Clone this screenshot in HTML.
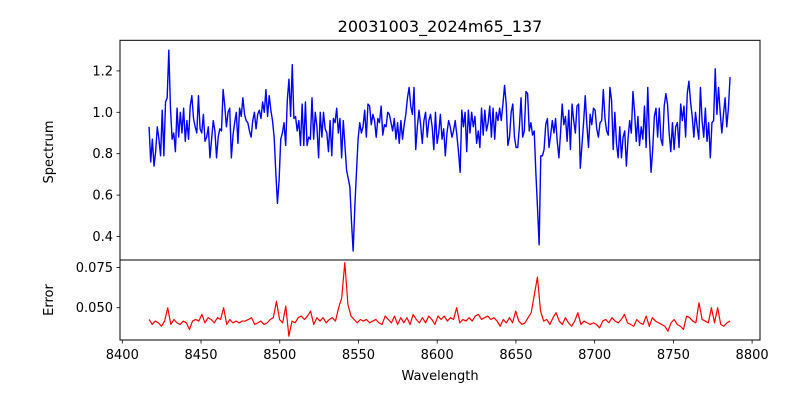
<!DOCTYPE html>
<html><head><meta charset="utf-8"><style>
body{margin:0;background:#fff;}
svg text{font-family:"DejaVu Sans","Liberation Sans",sans-serif;fill:#000;}
</style></head><body>
<svg id="chart" width="800" height="400" viewBox="0 0 800 400" xmlns="http://www.w3.org/2000/svg">
<rect width="800" height="400" fill="#fff"/>
<text x="440" y="32" text-anchor="middle" style="font-size:16px">20031003_2024m65_137</text>
<g id="topg"></g><g id="botg"></g>
<text transform="translate(53,152) rotate(-90)" text-anchor="middle" style="font-size:13px">Spectrum</text>
<text transform="translate(53,300) rotate(-90)" text-anchor="middle" style="font-size:13px">Error</text>
<text x="440" y="380" text-anchor="middle" style="font-size:13px">Wavelength</text>
</svg>
<script>
const wlStart = 8417, wlEnd = 8786;
const xTicks = [8400,8450,8500,8550,8600,8650,8700,8750,8800];
const fluxTicks = [0.4,0.6,0.8,1.0,1.2];
const errTicks = [0.050,0.075];
const flux = [0.93,0.76,0.87,0.74,0.81,0.93,0.87,0.79,1.01,0.79,1.05,1.07,1.30,1.02,0.87,0.90,0.81,1.02,0.88,1.00,0.90,1.02,0.86,0.96,0.87,1.03,1.08,0.97,0.93,0.90,1.08,0.92,0.90,0.99,0.86,0.88,0.93,0.78,0.87,0.96,0.91,0.78,0.88,0.92,0.91,1.11,1.03,0.93,1.00,1.02,0.78,0.89,0.95,1.00,0.85,1.02,0.98,1.07,0.99,0.96,0.95,0.91,0.88,0.96,1.00,0.92,0.99,1.01,0.97,1.05,1.00,1.11,0.98,1.08,1.01,0.96,0.88,0.71,0.56,0.67,0.87,0.90,0.95,0.84,1.06,1.16,0.98,1.23,0.97,0.98,0.91,0.96,0.84,1.04,
0.84,1.05,0.84,0.88,0.87,1.07,0.87,1.00,0.93,0.78,1.00,0.88,1.00,0.92,0.90,0.81,0.96,0.79,0.97,0.95,1.02,0.90,0.97,0.78,0.96,0.84,0.72,0.68,0.64,0.47,0.33,0.54,0.71,0.87,0.95,0.90,0.93,1.01,0.88,1.04,1.03,0.94,0.99,0.96,0.88,0.97,0.95,1.03,0.89,0.94,0.93,1.00,0.99,0.95,0.91,0.97,0.87,0.95,0.85,0.96,0.87,0.94,0.99,1.07,1.12,1.03,0.99,1.12,0.82,0.93,1.01,0.94,0.85,0.96,1.00,0.88,0.96,0.99,0.93,0.82,1.00,0.85,0.90,0.99,0.87,0.92,0.79,0.90,0.96,0.93,0.88,0.91,0.96,0.89,0.81,0.71,
1.01,0.93,1.00,0.81,1.01,0.90,1.00,0.93,0.98,0.85,0.91,0.83,1.02,0.89,1.01,0.91,0.95,1.03,0.88,1.02,0.87,1.00,0.96,1.02,0.96,1.04,1.13,1.04,0.84,0.88,1.00,1.04,0.88,0.83,0.83,0.93,1.07,0.88,0.91,1.10,1.09,0.91,0.95,0.89,0.91,0.71,0.54,0.36,0.79,0.79,0.82,0.94,0.97,0.83,0.89,0.96,0.90,0.97,0.86,0.78,0.90,1.04,0.94,0.98,0.86,1.01,0.82,1.04,0.96,0.90,1.03,1.04,0.73,0.84,0.95,1.08,0.94,0.83,0.99,0.94,1.02,1.01,0.92,0.88,0.95,0.96,1.11,
0.97,0.91,0.89,1.12,1.06,0.82,1.00,0.85,0.78,0.93,0.78,0.88,0.91,0.74,0.87,0.96,0.90,1.10,1.00,0.86,0.98,0.84,0.93,0.87,1.03,0.83,1.12,0.88,0.71,0.82,0.98,1.02,0.88,1.02,0.87,0.84,1.03,1.09,1.04,0.90,0.81,0.95,0.82,0.93,0.95,0.83,1.04,0.96,1.03,0.88,1.09,1.15,1.05,0.98,0.88,1.00,0.93,0.87,1.12,0.96,0.88,1.02,0.86,0.95,0.78,0.95,0.96,1.21,0.99,1.12,1.00,0.90,0.99,1.07,0.93,1.02,1.17];
const err = [0.0427,0.0396,0.0417,0.0406,0.0385,0.0417,0.050,0.0396,0.0427,0.0406,0.0396,0.0417,0.0406,0.0365,0.0417,0.0427,0.0417,0.0458,0.0406,0.0438,0.0427,0.0406,0.0438,0.0427,0.050,0.0396,0.0427,0.0406,0.0417,0.0406,0.0417,0.0417,0.0427,0.0438,0.0396,0.0406,0.0417,0.0396,0.0406,0.0427,0.0438,0.054,0.0427,0.0406,0.051,0.0323,0.0417,0.0406,0.0438,0.0448,0.0427,0.0448,0.0479,0.0396,0.0438,0.0417,0.0438,0.0406,0.0427,0.0438,0.0417,0.050,0.056,0.078,0.052,0.0448,0.0427,0.0406,0.0427,0.0417,0.0427,0.0406,0.0417,0.0427,0.0406,0.0396,0.0448,0.0427,0.0406,0.0448,0.0396,0.0438,0.0406,0.0438,0.0396,0.0458,0.0427,0.0406,0.0438,0.0406,0.0448,0.0427,0.0396,0.0448,
0.0427,0.0448,0.0417,0.0438,0.0427,0.050,0.0406,0.0427,0.0417,0.0438,0.0417,0.0448,0.0458,0.0427,0.0438,0.0448,0.0427,0.0438,0.0417,0.0385,0.0427,0.0406,0.0438,0.0406,0.0479,0.0417,0.0396,0.0406,0.0438,0.0469,0.058,0.069,0.0479,0.0417,0.0427,0.0396,0.0438,0.0469,0.0417,0.0396,0.0438,0.0406,0.0385,0.0417,0.0469,0.0396,0.0417,0.0406,0.0396,0.0406,0.0396,0.0375,0.0417,0.0427,0.0406,0.0438,0.0417,0.0406,0.0427,0.0458,0.0406,0.0396,0.0385,0.0427,0.0406,0.0396,0.0448,0.0385,0.0438,0.0417,0.0406,0.0396,0.0385,0.0354,0.0406,0.0427,0.0396,0.0385,0.0365,0.0448,0.0438,0.0417,0.0406,0.0531,0.0427,0.0417,0.0406,0.050,0.0406,0.050,0.0396,0.0385,0.0406,0.0417];

const NS="http://www.w3.org/2000/svg";
const L=120,R=760;
const xScale=w=>122.3+(w-8400)*1.5745;
const yTop=v=>112.3-(v-1.0)*207;
const yBot=v=>307.7-(v-0.050)*1612;
function mk(tag,attrs,parent){const e=document.createElementNS(NS,tag);for(const k in attrs)e.setAttribute(k,attrs[k]);parent.appendChild(e);return e;}
const topG=document.getElementById('topg'),botG=document.getElementById('botg');

function series(arr,yf,color,lw,parent,name){
  const n=arr.length;
  const pts=arr.map((v,i)=>{const w=wlStart+(wlEnd-wlStart)*i/(n-1);return xScale(w).toFixed(2)+','+yf(v).toFixed(2);}).join(' ');
  const p=mk('polyline',{points:pts,fill:'none',stroke:color,'stroke-width':lw,'stroke-linejoin':'round'},parent);
  
  
}
series(flux,yTop,'#0000ff',1.4,topG,'spectrum-line');
series(err,yBot,'#ff0000',1.2,botG,'error-line');

const f1=mk('rect',{x:L,y:40.3,width:R-L,height:219.7,fill:'none',stroke:'#000','stroke-width':1},topG);


const f2=mk('rect',{x:L,y:260,width:R-L,height:80,fill:'none',stroke:'#000','stroke-width':1},botG);



fluxTicks.forEach(v=>{
  const y=yTop(v);
  const t=mk('line',{x1:L-3.5,x2:L,y1:y,y2:y,stroke:'#000','stroke-width':0.8},topG);
  
  
  const tx=mk('text',{x:L-7,y:y+4.5,'text-anchor':'end',style:'font-size:13px'},topG);
  tx.textContent=v.toFixed(1);
  
  
});
errTicks.forEach(v=>{
  const y=yBot(v);
  const t=mk('line',{x1:L-3.5,x2:L,y1:y,y2:y,stroke:'#000','stroke-width':0.8},botG);
  
  
  const tx=mk('text',{x:L-7,y:y+4.5,'text-anchor':'end',style:'font-size:13px'},botG);
  tx.textContent=v.toFixed(3);
  
  
});
xTicks.forEach(v=>{
  const x=xScale(v);
  const t=mk('line',{x1:x,x2:x,y1:340,y2:343.5,stroke:'#000','stroke-width':0.8},botG);
  
  
  const tx=mk('text',{x:x,y:359,'text-anchor':'middle',style:'font-size:13px'},botG);
  tx.textContent=v;
  
  
});
</script>
</body></html>
